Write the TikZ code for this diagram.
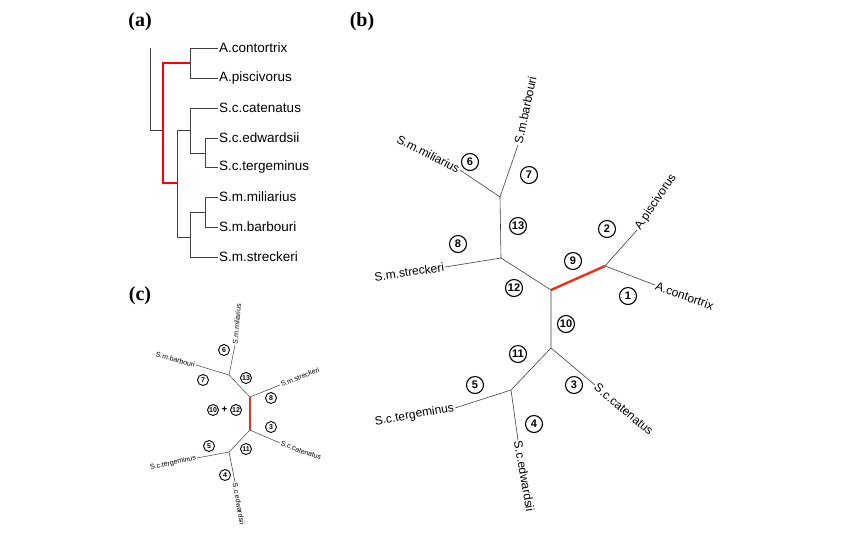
\documentclass[tikz,border=0pt]{standalone}
\usepackage{fontspec}
\setmainfont{Liberation Sans}
\newfontfamily\serifb{Liberation Serif}
\definecolor{redb}{RGB}{240,50,20}
\begin{document}
\begin{tikzpicture}[x=1pt,y=-1pt,
  br/.style={draw=black!75,line width=0.6pt},
  rd/.style={draw=red,line width=2pt},
  lfa/.style={font=\fontsize{13.5}{14}\selectfont,anchor=west,inner sep=1pt},
  lfb/.style={font=\fontsize{12}{13}\selectfont,inner sep=1pt},
  lfc/.style={font=\fontsize{7}{8}\selectfont,inner sep=1pt},
  cb/.style={circle,draw,line width=1.1pt,inner sep=0pt,minimum size=17pt,font=\fontsize{11}{12}\selectfont\bfseries},
  cc/.style={circle,draw,line width=0.9pt,inner sep=0pt,minimum size=11pt,font=\fontsize{7}{8}\selectfont\bfseries},
  pl/.style={font=\serifb\fontsize{20}{22}\selectfont\bfseries}]
\path[fill=white] (0,0) rectangle (850,539);
\node[pl] (pa) at (140,22) {(a)};
\node[pl] (pb) at (362,22) {(b)};
\node[pl] (pc) at (140,296) {(c)};
% panel a
\draw[br] (150,48)--(150,130)--(163,130);
\draw[rd] (190,63)--(163,63)--(163,183)--(177,183);
\draw[br] (190,48)--(190,78);
\draw[br] (177,130)--(177,237);
\draw[br] (177,130)--(190,130); \draw[br] (190,108)--(190,153);
\draw[br] (190,153)--(205,153); \draw[br] (205,138)--(205,167);
\draw[br] (177,237)--(190,237); \draw[br] (190,212)--(190,257);
\draw[br] (190,212)--(205,212); \draw[br] (205,197)--(205,227);
\foreach \y/\x/\t/\n in {48/190/A.contortrix/a1,78/190/A.piscivorus/a2,108/190/S.c.catenatus/a3,138/205/S.c.edwardsii/a4,167/205/S.c.tergeminus/a5,197/205/S.m.miliarius/a6,227/205/S.m.barbouri/a7,257/190/S.m.streckeri/a8}{
  \draw[br] (\x,\y)--(218,\y);
  \node[lfa] (\n) at (218,\y) {\t};}
% panel b
\coordinate (b9) at (551,290); \coordinate (bA) at (605,266);
\coordinate (b12) at (501,258); \coordinate (b13) at (500,197);
\coordinate (b10) at (551,348); \coordinate (b11) at (511,390);
\draw[rd,draw=redb,line width=2.4pt] (b9)--(bA);
\node[lfb,anchor=west,rotate=56] (bl1) at (637,230) {A.piscivorus};
\node[lfb,anchor=west,rotate=-20] (bl2) at (655,285) {A.contortrix};
\node[lfb,anchor=east,rotate=8] (bl3) at (445,267) {S.m.streckeri};
\node[lfb,anchor=west,rotate=78] (bl4) at (518,145) {S.m.barbouri};
\node[lfb,anchor=east,rotate=-27] (bl5) at (460,170) {S.m.miliarius};
\node[lfb,anchor=west,rotate=-40] (bl6) at (595,385) {S.c.catenatus};
\node[lfb,anchor=east,rotate=10] (bl7) at (455,408) {S.c.tergeminus};
\node[lfb,anchor=west,rotate=-80] (bl8) at (518,440) {S.c.edwardsii};
\draw[br] (bA)--(bl1.west) (bA)--(bl2.west) (b9)--(b12) (b9)--(b10)
  (b12)--(b13) (b12)--(bl3.east) (b13)--(bl4.west) (b13)--(bl5.east)
  (b10)--(b11) (b10)--(bl6.west) (b11)--(bl7.east) (b11)--(bl8.west);
\foreach \n/\x/\y in {1/628/296,2/607/229,3/574/385,4/534/424,5/475/385,6/470/162,7/529/175,8/458/244,9/573/261,10/566/324,11/518/354,12/514/288,13/518/226}
  \node[cb] (cb\n) at (\x,\y) {\n};
% panel c
\coordinate (cT) at (250,397); \coordinate (cB) at (250,430);
\coordinate (cM) at (229,375); \coordinate (cC) at (229,452);
\draw[rd,draw=redb,line width=2.4pt] (cT)--(cB);
\node[lfc,anchor=west,rotate=85] (cl1) at (235,345) {S.m.miliarius};
\node[lfc,anchor=east,rotate=-15] (cl2) at (196,365) {S.m.barbouri};
\node[lfc,anchor=west,rotate=22] (cl3) at (280,385) {S.m.streckeri};
\node[lfc,anchor=west,rotate=-20] (cl4) at (280,443) {S.c.catenatus};
\node[lfc,anchor=east,rotate=12] (cl5) at (197,458) {S.c.tergeminus};
\node[lfc,anchor=west,rotate=-80] (cl6) at (235,482) {S.c.edwardsii};
\draw[br,line width=0.5pt] (cT)--(cM) (cT)--(cl3.west) (cM)--(cl1.west) (cM)--(cl2.east)
  (cB)--(cC) (cB)--(cl4.west) (cC)--(cl5.east) (cC)--(cl6.west);
\foreach \n/\x/\y in {6/224/350,7/203/380,13/246/378,8/271/398,10/213/410,12/236/410,3/271/427,5/209/446,11/246/449,4/225/475}
  \node[cc] (cc\n) at (\x,\y) {\n};
\node[font=\bfseries\fontsize{10}{10}\selectfont,inner sep=0pt] (plus) at (224.5,410) {+};
\end{tikzpicture}
\end{document}
